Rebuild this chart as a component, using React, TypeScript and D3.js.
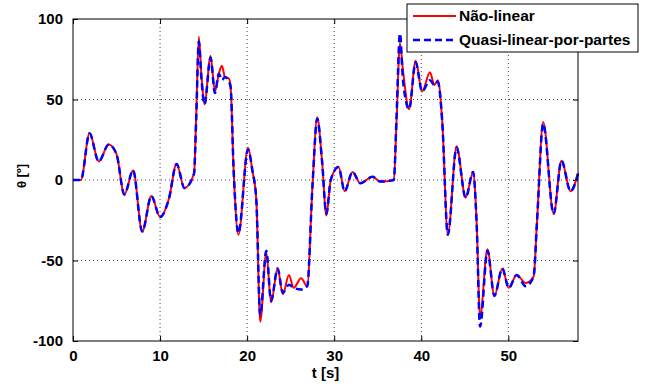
import * as d3 from "d3"
import { useEffect, useRef } from "react"

// time samples [s]
const times = [
  0, 0.9, 1.9, 2.95, 4.1, 5.0, 5.9, 6.9, 7.95, 9.0, 10.0, 11.0, 11.9, 12.8, 13.9,
  14.15, 14.45, 14.75, 15.1, 15.8, 16.3, 16.75, 17.1, 17.45, 17.9, 18.1, 18.45,
  19.0, 20.1, 20.6, 21.05, 21.5, 22.2, 22.75, 23.5, 24.1, 24.8, 25.35, 26.2, 26.9,
  27.5, 28.05, 28.6, 29.1, 29.6, 30.5, 31.2, 32.1, 33.0, 34.4, 35.3, 36.85, 37.15,
  37.55, 37.9, 38.6, 39.35, 40.1, 41.0, 41.5, 41.9, 42.4, 43.05, 44.05, 45.1,
  45.95, 46.35, 46.75, 47.6, 48.4, 49.3, 50.05, 50.95, 52.0, 52.9, 53.3, 54.0,
  55.2, 56.1, 57.15, 58
]

// "Não-linear" (red)
const naoLinear = [
  0, 0, 29, 11.5, 22, 16, -9, 6, -32, -10, -23, -12, 10, -5, 4,
  40, 89, 65, 47, 77, 55, 66, 71, 64, 63, 58, 6,
  -34, 20, 6, -12, -88, -45, -76, -55, -71, -59, -67, -61, -66,
  -4, 39, 12, -22, 0, 8, -7, 5, -2, 2, -1, 0, 35,
  85, 68, 44, 74, 55, 67, 59, 62, 37, -34, 21, -11,
  5, -25, -85, -43, -72, -55, -67, -59, -64, -60, -25, 36,
  -21, 12, -7, 4
]

// "Quasi-linear-por-partes" (blue dashed)
const quasiLinear = [
  0, 0, 29, 11.5, 22, 16, -9, 6, -32, -10, -23, -12, 10, -5, 4,
  38, 86, 63, 47, 76, 54, 66, 62, 64, 61, 58, 6,
  -33, 19, 6, -12, -84, -44, -75, -55, -70, -65, -67, -68, -66,
  -4, 38, 12, -21, 0, 8, -7, 5, -2, 2, -1, 0, 38,
  91, 62, 44, 73, 55, 62, 59, 61, 37, -34, 20, -11,
  5, -26, -91, -44, -72, -55, -67, -59, -66, -60, -25, 35,
  -21, 12, -7, 4
]

const xTicks = [0, 10, 20, 30, 40, 50]
const yTicks = [-100, -50, 0, 50, 100]
const legendLabels = ["Não-linear", "Quasi-linear-por-partes"]

const App = () => {
  const svgRef = useRef<SVGSVGElement | null>(null)

  useEffect(() => {
    if (!svgRef.current) return
    d3.select(svgRef.current).selectAll("*").remove()

    const W = 649
    const H = 385
    const margin = { top: 19, right: 71, bottom: 44, left: 73 }
    const width = W - margin.left - margin.right
    const height = H - margin.top - margin.bottom
    const font = "'Liberation Sans', Arial, sans-serif"

    const root = d3.select(svgRef.current).attr("width", W).attr("height", H)
    root.append("rect").attr("width", W).attr("height", H).attr("fill", "#fff")

    const svg = root.append("g").attr("transform", `translate(${margin.left},${margin.top})`)

    const x = d3.scaleLinear().domain([0, 58]).range([0, width])
    const y = d3.scaleLinear().domain([-100, 100]).range([height, 0])

    // grid (dotted)
    svg
      .selectAll(".gx")
      .data(xTicks.slice(1))
      .enter()
      .append("line")
      .attr("x1", d => x(d))
      .attr("x2", d => x(d))
      .attr("y1", 0)
      .attr("y2", height)
      .attr("stroke", "#444")
      .attr("stroke-dasharray", "1,3")
    svg
      .selectAll(".gy")
      .data(yTicks.slice(1, -1))
      .enter()
      .append("line")
      .attr("x1", 0)
      .attr("x2", width)
      .attr("y1", d => y(d))
      .attr("y2", d => y(d))
      .attr("stroke", "#444")
      .attr("stroke-dasharray", "1,3")

    // axes with inner ticks on all four sides
    const axisStyle = (g: d3.Selection<SVGGElement, unknown, null, undefined>) => {
      g.select(".domain").remove()
      g.selectAll("line").attr("stroke", "#000")
      g.selectAll("text")
        .attr("fill", "#000")
        .style("font-family", font)
        .style("font-size", "15px")
        .style("font-weight", "bold")
    }
    const fmt = (d: d3.NumberValue) => String(d)

    svg
      .append("g")
      .attr("transform", `translate(0,${height})`)
      .call(d3.axisBottom(x).tickValues(xTicks).tickSizeInner(-5).tickPadding(9).tickFormat(fmt))
      .call(axisStyle)
    svg
      .append("g")
      .call(d3.axisTop(x).tickValues(xTicks).tickSizeInner(-5).tickFormat(() => ""))
      .call(axisStyle)
    svg
      .append("g")
      .call(d3.axisLeft(y).tickValues(yTicks).tickSizeInner(-5).tickPadding(10).tickFormat(fmt))
      .call(axisStyle)
    svg
      .append("g")
      .attr("transform", `translate(${width},0)`)
      .call(d3.axisRight(y).tickValues(yTicks).tickSizeInner(-5).tickFormat(() => ""))
      .call(axisStyle)

    // lines
    const line = d3
      .line<number>()
      .curve(d3.curveMonotoneX)
      .x((_, i) => x(times[i]))
      .y(d => y(d))

    svg
      .append("path")
      .datum(naoLinear)
      .attr("fill", "none")
      .attr("stroke", "#ff0000")
      .attr("stroke-width", 2)
      .attr("d", line)

    svg
      .append("path")
      .datum(quasiLinear)
      .attr("fill", "none")
      .attr("stroke", "#0000ff")
      .attr("stroke-width", 2.5)
      .attr("stroke-dasharray", "7,4")
      .attr("d", line)

    // box
    svg
      .append("rect")
      .attr("width", width)
      .attr("height", height)
      .attr("fill", "none")
      .attr("stroke", "#000")
      .attr("stroke-width", 1)

    // axis labels
    root
      .append("text")
      .attr("x", margin.left + width / 2)
      .attr("y", 378)
      .attr("text-anchor", "middle")
      .style("font-family", font)
      .style("font-size", "15px")
      .style("font-weight", "bold")
      .text("t [s]")

    root
      .append("text")
      .attr("transform", `translate(26,176) rotate(-90)`)
      .attr("text-anchor", "middle")
      .style("font-family", font)
      .style("font-size", "13px")
      .style("font-weight", "bold")
      .text("θ [º]")

    // legend
    const lg = root.append("g").attr("transform", "translate(407,4)")
    lg.append("rect")
      .attr("width", 231)
      .attr("height", 48)
      .attr("fill", "#fff")
      .attr("stroke", "#000")
      .attr("stroke-width", 1)

    const legendRows = [
      { label: legendLabels[0], color: "#ff0000", dash: null, w: 2 },
      { label: legendLabels[1], color: "#0000ff", dash: "7,4", w: 2.5 }
    ]
    legendRows.forEach((r, i) => {
      const ly = 12 + i * 24
      lg.append("line")
        .attr("x1", 6)
        .attr("x2", 49)
        .attr("y1", ly)
        .attr("y2", ly)
        .attr("stroke", r.color)
        .attr("stroke-width", r.w)
        .attr("stroke-dasharray", r.dash)
      lg.append("text")
        .attr("x", 52)
        .attr("y", ly + 5)
        .style("font-family", font)
        .style("font-size", "15.5px")
        .style("font-weight", "bold")
        .text(r.label)
    })
  }, [])

  return (
    <div style={{ position: "fixed", left: 0, top: 0 }}>
      <svg ref={svgRef} style={{ display: "block" }} />
    </div>
  )
}

export default App
